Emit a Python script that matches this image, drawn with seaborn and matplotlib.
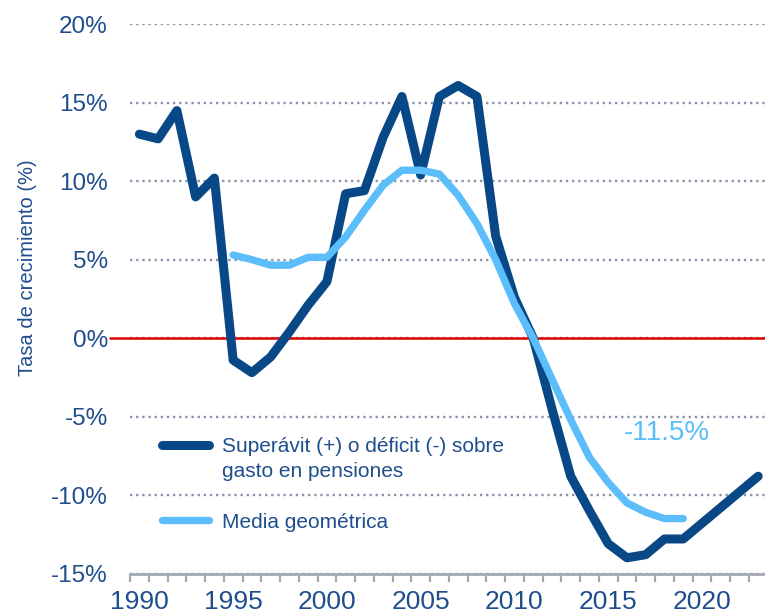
import numpy as np
import pandas as pd
import matplotlib
matplotlib.use("Agg")
import matplotlib.pyplot as plt
from matplotlib.ticker import FixedLocator, FuncFormatter
import seaborn as sns

# --- datos ---
years_saldo = list(range(1990, 2024))
saldo = [13.0, 12.7, 14.5, 9.0, 10.2, -1.4, -2.2, -1.2, 0.4, 2.1,
         3.6, 9.2, 9.4, 12.8, 15.4, 10.4, 15.4, 16.1, 15.4, 6.5,
         2.6, 0.0, -4.5, -8.8, -11.0, -13.1, -14.0, -13.8, -12.8, -12.8,
         -11.8, -10.8, -9.8, -8.8]

years_media = list(range(1995, 2020))
media = [5.3, 5.0, 4.65, 4.65, 5.15, 5.15, 6.45, 8.15, 9.75, 10.7,
         10.7, 10.45, 9.1, 7.3, 5.0, 2.2, 0.0, -2.6, -5.2, -7.6,
         -9.2, -10.5, -11.1, -11.5, -11.5]

label_saldo = "Superávit (+) o déficit (-) sobre"
label_saldo_2 = "gasto en pensiones"
label_media = "Media geométrica"
nota_final = "-11.5%"

y_ticks = [-15, -10, -5, 0, 5, 10, 15, 20]
x_ticks = [1990, 1995, 2000, 2005, 2010, 2015, 2020]

# --- colores ---
azul = "#084886"
celeste = "#5BBEFA"
texto = "#1F4E8C"
rojo = "#E00000"
gris = "#8C94AA"

sns.set_style("white")
plt.rcParams['font.family'] = ['Liberation Sans', 'DejaVu Sans']

df_saldo = pd.DataFrame({'year': years_saldo, 'valor': saldo})
df_media = pd.DataFrame({'year': years_media, 'valor': media})

fig = plt.figure(figsize=(7.65, 6.16), dpi=100)
W, H = 765, 616
ax = fig.add_axes([130 / W, 1 - 573.5 / H, 637.6 / W, (573.5 - 24.3) / H])

sns.lineplot(data=df_saldo, x='year', y='valor', ax=ax, color=azul, lw=6.5,
             label=label_saldo, solid_capstyle='round', solid_joinstyle='round', zorder=3)
sns.lineplot(data=df_media, x='year', y='valor', ax=ax, color=celeste, lw=5.3,
             label=label_media, solid_capstyle='round', solid_joinstyle='round', zorder=4)

# línea roja en 0 (sale un poco fuera del eje)
ax.axhline(0, xmin=-0.031, xmax=1, color=rojo, lw=1.8, clip_on=False, zorder=2)

ax.set_xlim(1989.5, 2023.5)
ax.set_ylim(-15, 20)

ax.yaxis.set_major_locator(FixedLocator(y_ticks))
ax.yaxis.set_major_formatter(FuncFormatter(lambda v, p: f"{v:.0f}%"))
ax.xaxis.set_major_locator(FixedLocator(x_ticks))
ax.xaxis.set_minor_locator(FixedLocator(np.arange(1989.5, 2024, 1)))

ax.tick_params(axis='y', length=0, pad=16, labelsize=17.5, labelcolor=texto)
ax.tick_params(axis='x', which='major', length=0, pad=12, labelsize=19, labelcolor=texto)
ax.tick_params(axis='x', which='minor', bottom=True, length=5.5, width=1.6, color='#A3A8B8')

ax.yaxis.grid(True, linestyle=(0, (1, 1.6)), color=gris, lw=1.7)
ax.xaxis.grid(False)
ax.set_axisbelow(True)

for s in ['top', 'right', 'left']:
    ax.spines[s].set_visible(False)
ax.spines['bottom'].set_color('#A3A8B8')
ax.spines['bottom'].set_linewidth(2)

ax.set_xlabel('')
ax.set_ylabel('Tasa de crecimiento (%)', fontsize=14.5, color=texto)
ax.yaxis.set_label_coords(-0.146, 0.556)

leg = ax.legend(loc='upper left', bbox_to_anchor=(161.5 / W, 1 - 437.5 / H),
                bbox_transform=fig.transFigure, frameon=False, fontsize=15,
                borderpad=0, borderaxespad=0, handlelength=2.26,
                handletextpad=0.65, labelspacing=2.7)
for t in leg.get_texts():
    t.set_color(texto)
for h in leg.get_lines():
    h.set_solid_capstyle('round')

ax.annotate(label_saldo_2, xy=(0, 0), xycoords=leg.get_texts()[0],
            xytext=(0, -4), textcoords='offset points', va='top', ha='left',
            fontsize=15, color=texto, zorder=6)

ax.text(2018.1, -6.05, nota_final, ha='center', va='center', fontsize=20, color=celeste)

fig.canvas.draw()
fig.savefig('out.png', dpi=100)
